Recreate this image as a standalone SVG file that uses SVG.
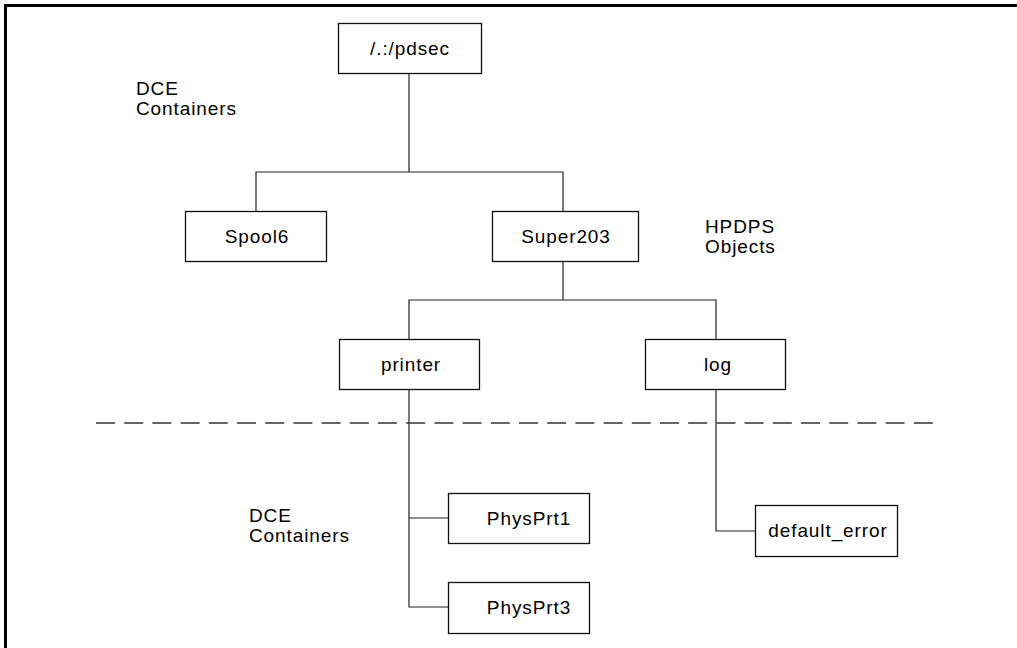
<svg xmlns="http://www.w3.org/2000/svg" width="1017" height="648" viewBox="0 0 1017 648">
<style>
.box{fill:#fff;stroke:#111;stroke-width:1.3}
.lbl{font-family:"Liberation Sans",Arial,sans-serif;font-size:19px;letter-spacing:0.9px;fill:#000}
.c{text-anchor:middle}
.conn{fill:none;stroke:#222;stroke-width:1.2}
</style>
<rect x="0" y="0" width="1017" height="648" fill="#fff"/>
<g id="frame">
<line x1="4" y1="5.5" x2="1017" y2="5.5" stroke="#000" stroke-width="3"/>
<line x1="5.5" y1="4" x2="5.5" y2="648" stroke="#000" stroke-width="3"/>
</g>
<g id="connectors">
<path class="conn" d="M409,73 V172 M256,211 V172 H563 V211"/>
<path class="conn" d="M563,261 V300 M409,339 V300 H716 V339"/>
<path class="conn" d="M409,389 V607 H448 M409,518 H448"/>
<path class="conn" d="M716,389 V531 H755"/>
</g>
<line id="divider" x1="96" y1="423" x2="933" y2="423" stroke="#333" stroke-width="1.5" stroke-dasharray="19 9.2"/>
<g id="n-pdsec"><rect class="box" x="338.5" y="23.5" width="143" height="50"/><text class="lbl c" x="410" y="55">/.:/pdsec</text></g>
<g id="n-spool6"><rect class="box" x="185.5" y="211.5" width="141" height="50"/><text class="lbl c" x="257" y="243">Spool6</text></g>
<g id="n-super203"><rect class="box" x="492.5" y="211.5" width="146" height="50"/><text class="lbl c" x="566" y="243">Super203</text></g>
<g id="n-printer"><rect class="box" x="339.5" y="339.5" width="140" height="50"/><text class="lbl c" x="411" y="371">printer</text></g>
<g id="n-log"><rect class="box" x="645.5" y="339.5" width="140" height="50"/><text class="lbl c" x="718" y="371">log</text></g>
<g id="n-physprt1"><rect class="box" x="448.5" y="493.5" width="141" height="50"/><text class="lbl c" x="529" y="525">PhysPrt1</text></g>
<g id="n-physprt3"><rect class="box" x="448.5" y="582.5" width="141" height="51"/><text class="lbl c" x="529" y="614">PhysPrt3</text></g>
<g id="n-default_error"><rect class="box" x="755.5" y="505.5" width="142" height="51"/><text class="lbl c" x="828" y="537">default_error</text></g>
<g id="labels">
<text class="lbl" x="136" y="95">DCE</text>
<text class="lbl" x="136" y="115">Containers</text>
<text class="lbl" x="705" y="233">HPDPS</text>
<text class="lbl" x="705" y="253">Objects</text>
<text class="lbl" x="249" y="522">DCE</text>
<text class="lbl" x="249" y="542">Containers</text>
</g>
</svg>
